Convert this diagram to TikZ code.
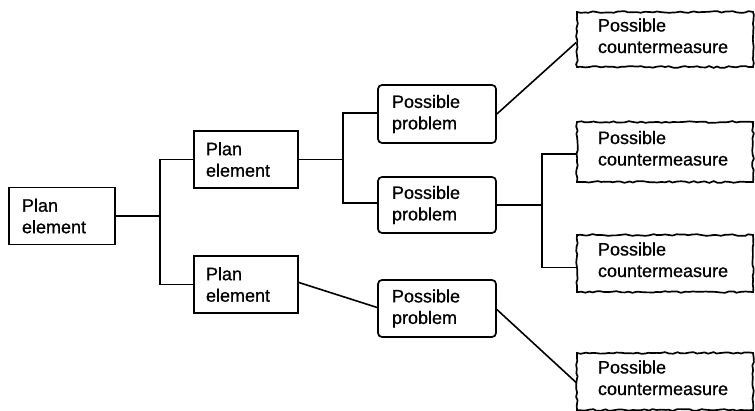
\documentclass[tikz,border=0pt]{standalone}
\usepackage{fontspec}
\setmainfont[FakeBold=0.8]{Liberation Sans}
\usetikzlibrary{decorations.pathmorphing}
\begin{document}
\begin{tikzpicture}[x=1pt,y=-1pt,
  every node/.style={font=\fontsize{18}{21.5}\selectfont, line width=1.7pt, inner ysep=2pt, inner xsep=0pt, align=left},
  planbox/.style={draw, minimum width=106pt, minimum height=57pt, text width=80pt},
  probbox/.style={draw, rounded corners=4pt, minimum width=118pt, minimum height=57pt, text width=90pt},
  cmbox/.style={draw, minimum width=176pt, minimum height=57pt, text width=134pt, text depth=29pt,
     decorate, decoration={random steps, segment length=4pt, amplitude=0.9pt}},
  conn/.style={line width=1.6pt}]
\pgfmathsetseed{7}
\useasboundingbox (0,0) rectangle (755,411);
\node[planbox] (root) at (62,216) {Plan\\element};
\node[planbox, minimum width=104pt] (pe1) at (246,159.5) {Plan\\element};
\node[planbox, minimum width=104pt] (pe2) at (246,284.5) {Plan\\element};
\node[probbox, minimum height=58pt] (pp1) at (437,114) {Possible\\problem};
\node[probbox, minimum height=56pt] (pp2) at (437,205) {Possible\\problem};
\node[probbox] (pp3) at (437,308.5) {Possible\\problem};
\node[cmbox, minimum height=55pt] (cm1) at (665,39.5) {Possible\\countermeasure};
\node[cmbox, minimum height=60pt] (cm2) at (665,152) {Possible\\countermeasure};
\node[cmbox] (cm3) at (665,263.5) {Possible\\countermeasure};
\node[cmbox] (cm4) at (665,381.5) {Possible\\countermeasure};
% connectors
\coordinate (j1) at (160,216);
\coordinate (j2) at (343,159.5);
\coordinate (j3) at (542,205);
\draw[conn] (root.east) -- (j1);
\draw[conn] (pe1.west) -| (j1);
\draw[conn] (pe2.west) -| (j1);
\draw[conn] (pe1.east) -- (j2);
\draw[conn] ([yshift=1pt]pp1.west) -| (j2);
\draw[conn] ([yshift=2pt]pp2.west) -| (j2);
\draw[conn] (pp2.east) -- (j3);
\draw[conn] ([yshift=-2pt]cm2.west) -| (j3);
\draw[conn] ([yshift=-4pt]cm3.west) -| (j3);
\draw[conn] ([yshift=2pt]pe2.east) -- ([yshift=1pt]pp3.west);
\draw[conn] (pp1.east) -- ([yshift=-3pt]cm1.west);
\draw[conn] ([yshift=-1pt]pp3.east) -- ([yshift=-1pt]cm4.west);
\end{tikzpicture}
\end{document}
